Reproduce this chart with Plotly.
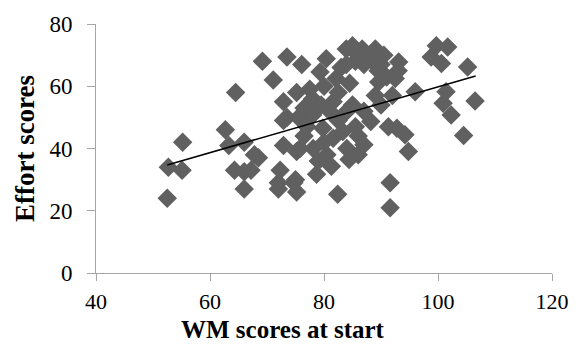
import plotly.graph_objects as go

wm_scores = [52.5, 52.7, 55.1, 55.2, 62.7, 63.3, 64.3, 64.5, 66.0, 66.0, 66.0, 67.2, 67.8, 68.5, 69.2, 71.1,
             72.0, 72.0, 72.3, 72.9, 72.9, 72.9, 73.5, 73.5, 74.7, 75.2, 75.0, 75.2, 75.2, 75.5, 75.8, 76.1,
             76.5, 76.5, 77.0, 77.5, 78.0, 78.0, 78.1, 78.7, 79.0, 79.3, 79.5, 79.8, 80.4, 80.0, 80.0, 80.5,
             81.0, 81.3, 81.6, 81.6, 82.1, 82.4, 82.5, 82.5, 83.0, 83.3, 83.9, 83.9, 84.0, 84.0, 84.4, 84.5,
             85.0, 85.0, 85.5, 85.5, 86.0, 86.0, 86.0, 86.7, 87.0, 87.0, 87.0, 88.0, 88.2, 88.5, 89.0, 89.0,
             89.6, 89.5, 90.0, 90.0, 90.5, 91.0, 91.3, 91.6, 91.6, 92.0, 92.5, 92.8, 93.1, 93.0, 94.2, 94.8,
             96.0, 98.8, 99.7, 100.6, 101.4, 100.9, 101.7, 102.3, 104.5, 105.2, 106.5]
effort_scores = [24.0, 34.0, 33.0, 42.0, 46.0, 41.0, 33.0, 58.0, 42.0, 32.5, 27.0, 33.0, 38.0, 37.0, 68.0, 62.0,
                 27.0, 29.0, 33.0, 41.0, 49.0, 55.0, 69.4, 50.0, 29.0, 26.0, 30.0, 39.0, 58.0, 50.0, 40.0, 67.0,
                 44.0, 53.0, 47.0, 59.0, 50.8, 56.0, 40.0, 31.7, 36.0, 64.6, 54.0, 46.5, 68.8, 42.0, 60.0, 38.0,
                 52.0, 34.3, 43.3, 55.0, 62.5, 25.3, 49.0, 58.0, 66.0, 45.5, 72.0, 67.0, 52.0, 40.0, 36.5, 61.0,
                 73.0, 54.0, 47.0, 68.0, 44.0, 70.0, 38.0, 72.0, 41.2, 52.0, 67.0, 70.0, 48.7, 68.0, 72.0, 57.0,
                 61.4, 65.0, 54.0, 67.0, 70.0, 63.0, 47.0, 29.0, 21.0, 57.0, 62.5, 46.5, 67.8, 65.0, 44.4, 39.0,
                 58.2, 69.4, 73.0, 67.3, 58.2, 54.5, 72.6, 50.8, 44.2, 66.2, 55.3]

trend_x = [52.5, 106.6]
trend_y = [34.7, 63.3]

x_ticks = [40, 60, 80, 100, 120]
y_ticks = [0, 20, 40, 60, 80]

font_family = "Liberation Serif, Times New Roman, serif"

fig = go.Figure()
fig.add_trace(go.Scatter(
    x=wm_scores, y=effort_scores, mode="markers",
    marker=dict(symbol="diamond", size=15, color="#606060", line=dict(width=0)),
    showlegend=False, hoverinfo="skip"))
fig.add_trace(go.Scatter(
    x=trend_x, y=trend_y, mode="lines",
    line=dict(color="black", width=1.5), showlegend=False, hoverinfo="skip"))

fig.update_layout(
    width=581, height=345,
    margin=dict(l=96, r=22, t=22, b=72),
    paper_bgcolor="white", plot_bgcolor="white",
    font=dict(family=font_family, size=23, color="black"),
)
fig.update_xaxes(
    range=[40, 120], tickvals=x_ticks, showgrid=False, zeroline=False,
    showline=True, linecolor="#a6a6a6", linewidth=1,
    ticks="outside", ticklen=7, tickcolor="#a6a6a6", ticklabelstandoff=2,
    tickfont=dict(size=22),
)
fig.update_yaxes(
    range=[0, 80], tickvals=y_ticks, showgrid=False, zeroline=False,
    showline=True, linecolor="#a6a6a6", linewidth=1,
    ticks="outside", ticklen=8, tickcolor="#a6a6a6", ticklabelstandoff=10,
    title=dict(text="<b>Effort scores</b>", font=dict(size=27), standoff=6),
)
fig.add_annotation(
    text="<b>WM scores at start</b>", font=dict(size=25),
    xref="paper", yref="paper", x=0.411, y=-0.287,
    xanchor="center", yanchor="bottom", showarrow=False, borderpad=0,
)

fig.write_html("out.html")
